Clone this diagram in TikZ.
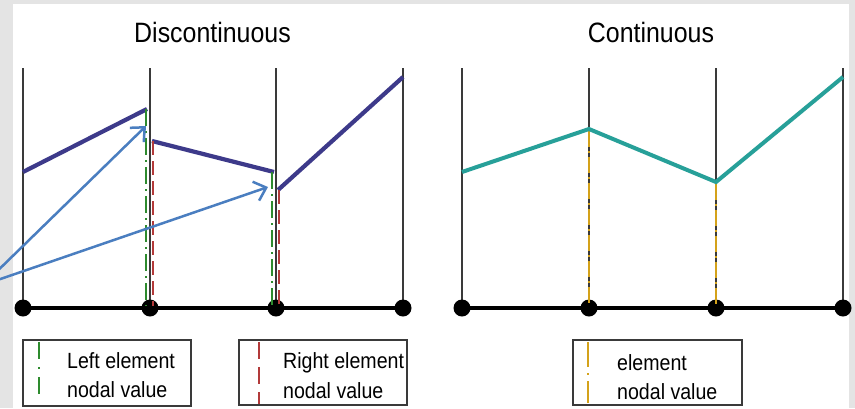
\documentclass[tikz,border=0pt]{standalone}
\usepackage{fontspec}
\setmainfont{Liberation Sans}
\newfontfamily\narrowfont[FakeStretch=0.89]{Liberation Sans}
\usetikzlibrary{arrows.meta}
\definecolor{bgray}{HTML}{E4E4E4}
\definecolor{dpurple}{HTML}{3D3A8A}
\definecolor{tealc}{HTML}{27A099}
\definecolor{ablue}{HTML}{4A7EC0}
\definecolor{lgreen}{HTML}{2E8B2E}
\definecolor{rred}{HTML}{B23A3A}
\definecolor{goldc}{HTML}{D4A21A}
\definecolor{gridc}{HTML}{3A3A3A}
\tikzset{
  gridline/.style={draw=gridc, line width=1.2pt},
  axisline/.style={draw=black, line width=4pt},
  nodedot/.style={fill=black},
  discline/.style={draw=dpurple, line width=4.2pt},
  contline/.style={draw=tealc, line width=4pt},
  leftval/.style={draw=lgreen, line width=2.8pt, dash pattern=on 17pt off 5pt on 2pt off 5pt},
  rightval/.style={draw=rred, line width=2.8pt, dash pattern=on 14pt off 6pt},
  contval/.style={draw=goldc, line width=2.6pt, dash pattern=on 16pt off 4pt on 2pt off 4pt},
  pointer/.style={draw=ablue, line width=2.5pt, -{Straight Barb[length=11pt,width=20pt,line width=2.5pt]}},
  legbox/.style={draw=gridc, line width=1.2pt},
  legtext/.style={inner sep=0pt, anchor=base west, font=\narrowfont\fontsize{22}{24}\selectfont},
  titletext/.style={inner sep=0pt, anchor=base, font=\narrowfont\fontsize{28}{30}\selectfont}
}
\begin{document}
\begin{tikzpicture}[x=1pt,y=-1pt]
\useasboundingbox (0,0) rectangle (855,408);
\clip (0,0) rectangle (855,408);
\fill[bgray] (0,0) rectangle (855,408);
\fill[white] (13,4) rectangle (849,408);

% titles
\node[titletext] (t1) at (212.5,42) {Discontinuous};
\node[titletext] (t2) at (651,42) {Continuous};

% left plot
\foreach \i/\x in {1/23,2/150,3/276,4/403}{
  \coordinate (L\i) at (\x,308);
  \coordinate (LT\i) at (\x,68);
  \draw[gridline] (LT\i) -- (L\i);
}
\draw[axisline] (L1) -- (L4);
\foreach \i in {1,...,4}{ \fill[nodedot] (L\i) circle (8.5); }

\coordinate (a1) at (23,172);
\coordinate (a2) at (147,109);
\coordinate (b1) at (152,141);
\coordinate (b2) at (274,172);
\coordinate (c1) at (278,190);
\coordinate (c2) at (403,77);
\draw[discline] (a1) -- (a2);
\draw[discline] (b1) -- (b2);
\draw[discline] (c1) -- (c2);

\coordinate (g1t) at (146,109); \coordinate (g1b) at (146,306);
\coordinate (r1t) at (153,141); \coordinate (r1b) at (153,306);
\coordinate (g2t) at (272,172); \coordinate (g2b) at (272,306);
\coordinate (r2t) at (279,190); \coordinate (r2b) at (279,306);
\draw[leftval] (g1t) -- (g1b);
\draw[rightval] (r1t) -- (r1b);
\draw[leftval] (g2t) -- (g2b);
\draw[rightval] (r2t) -- (r2b);

% pointers
\coordinate (src) at (-17,285);
\coordinate (p1) at (146,126);
\coordinate (p2) at (268,187);
\draw[pointer] (src) -- (p1);
\draw[pointer] (src) -- (p2);

% right plot
\foreach \i/\x in {1/462,2/589,3/716,4/843}{
  \coordinate (R\i) at (\x,308);
  \coordinate (RT\i) at (\x,68);
  \draw[gridline] (RT\i) -- (R\i);
}
\draw[axisline] (R1) -- (R4);
\foreach \i in {1,...,4}{ \fill[nodedot] (R\i) circle (8.5); }
\coordinate (k1) at (462,172);
\coordinate (k2) at (589,129);
\coordinate (k3) at (716,182);
\coordinate (k4) at (843,77);
\coordinate (y1t) at (589,131); \coordinate (y1b) at (589,306);
\coordinate (y2t) at (716,184); \coordinate (y2b) at (716,306);
\draw[contval] (y1t) -- (y1b);
\draw[contval] (y2t) -- (y2b);
\draw[contline, line join=miter] (k1) -- (k2) -- (k3) -- (k4);

% legends
\draw[legbox] (23,340) rectangle (191,406);
\coordinate (lg1t) at (39,342); \coordinate (lg1b) at (39,400);
\draw[leftval, dash pattern=on 17pt off 8pt on 2pt off 8pt] (lg1t) -- (lg1b);
\node[legtext] (lt1) at (67,368) {Left element};
\node[legtext] (lt2) at (67,397) {nodal value};

\draw[legbox] (239,340) rectangle (407,405);
\coordinate (lg2t) at (259,342); \coordinate (lg2b) at (259,404);
\draw[rightval, dash pattern=on 17pt off 8pt] (lg2t) -- (lg2b);
\node[legtext] (lt3) at (283,368) {Right element};
\node[legtext] (lt4) at (283,398) {nodal value};

\draw[legbox] (573,340) rectangle (742,405);
\coordinate (lg3t) at (588,342); \coordinate (lg3b) at (588,403);
\draw[contval, dash pattern=on 25pt off 6pt on 2pt off 6pt] (lg3t) -- (lg3b);
\node[legtext] (lt5) at (617,370) {element};
\node[legtext] (lt6) at (617,399) {nodal value};
\end{tikzpicture}
\end{document}
